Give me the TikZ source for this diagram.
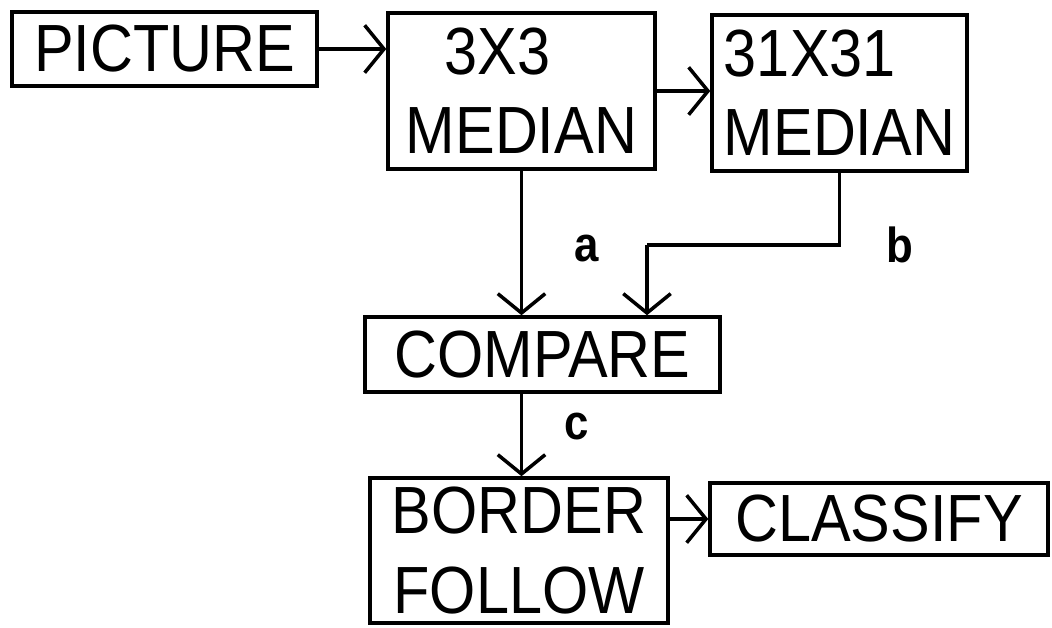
\documentclass[tikz,border=0pt]{standalone}
\usepackage{fontspec}
\setmainfont[FakeStretch=0.89]{Liberation Sans}
\usetikzlibrary{arrows.meta}
\tikzset{
  box/.style={draw, line width=2pt, inner sep=0pt, align=center,
    font=\fontsize{38}{45}\selectfont},
  arr/.style={line width=2pt, -{Straight Barb[length=11pt,width=27pt,line width=2pt]}},
  conn/.style={line width=2pt},
  lbl/.style={font=\fontsize{28}{32}\selectfont\bfseries, inner sep=0pt}
}
\begin{document}
\begin{tikzpicture}[x=0.02cm,y=-0.02cm]
\fill[white] (0,0) rectangle (1052,628);
\useasboundingbox (0,0) rectangle (1052,628);
\node[box, minimum width=6.1cm, minimum height=1.48cm] (pic) at (164.5,49) {PICTURE};
\node[box, minimum width=5.34cm, minimum height=3.12cm] (m3) at (521.5,91) {3X3\hspace*{27pt}\\MEDIAN};
\node[box, align=left, minimum width=5.1cm, minimum height=3.12cm] (m31) at (839.5,93) {31X31\\MEDIAN};
\node[box, minimum width=7.1cm, minimum height=1.5cm] (cmp) at (542.5,354.5) {COMPARE};
\node[box, minimum width=5.96cm, minimum height=2.9cm] (bf) at (519,550.5) {BORDER\\FOLLOW};
\node[box, minimum width=6.76cm, minimum height=1.44cm] (cls) at (879,519) {CLASSIFY};
\coordinate (bend) at (647,245);
\draw[arr] (pic.east) -- (m3.west |- pic.east);
\draw[arr] (m3.east) -- (m31.west |- m3.east);
\draw[arr] (m3.south) -- (m3.south |- cmp.north);
\draw[conn] (m31.south) |- (bend);
\draw[arr] (bend) -- (bend |- cmp.north);
\draw[arr] (m3.south |- cmp.south) -- (m3.south |- bf.north);
\draw[arr] (cls.west -| bf.east) -- (cls.west);
\node[lbl] (la) at (587,249) {a};
\node[lbl] (lb) at (900,245) {b};
\node[lbl] (lc) at (577,427) {c};
\end{tikzpicture}
\end{document}
